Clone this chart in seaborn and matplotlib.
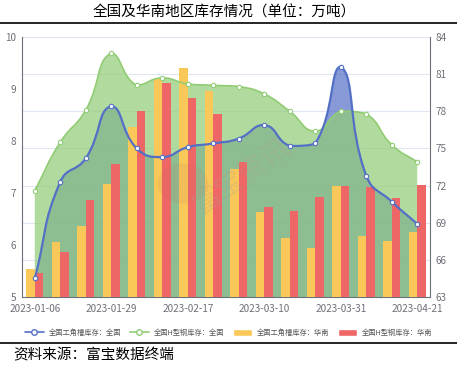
import numpy as np
import pandas as pd
import matplotlib
matplotlib.use("Agg")
import matplotlib.pyplot as plt
import seaborn as sns
from matplotlib.path import Path
from matplotlib.patches import PathPatch, Patch, Circle
from matplotlib.lines import Line2D

# data
dates = ['2023-01-06', '2023-01-13', '2023-01-20', '2023-01-29', '2023-02-03', '2023-02-10',
         '2023-02-17', '2023-02-24', '2023-03-03', '2023-03-10', '2023-03-17', '2023-03-24',
         '2023-03-31', '2023-04-07', '2023-04-14', '2023-04-21']
# national inventory, right axis
nat_angle = [64.5, 72.3, 74.2, 78.4, 75.0, 74.3, 75.1, 75.4,
             75.8, 76.9, 75.2, 75.4, 81.6, 72.8, 70.7, 68.9]
nat_hbeam = [71.6, 75.5, 78.1, 82.7, 80.1, 80.7, 80.2, 80.1,
             80.0, 79.4, 78.0, 76.4, 78.0, 77.8, 75.3, 73.9]
# south china inventory, left axis
south_angle = [5.53, 6.06, 6.37, 7.17, 8.26, 9.19, 9.40, 8.97,
               7.47, 6.64, 6.14, 5.94, 7.13, 6.17, 6.07, 6.25]
south_hbeam = [5.47, 5.86, 6.86, 7.55, 8.57, 9.11, 8.82, 8.52,
               7.60, 6.73, 6.65, 6.92, 7.13, 7.12, 6.90, 7.15]

names = ['全国工角槽库存：全国', '全国H型钢库存：全国', '全国工角槽库存：华南', '全国H型钢库存：华南']
BLUE, GREEN, YELLOW, RED = '#5470c6', '#91cc75', '#fac858', '#ee6666'
GREY = '#6e7079'

sns.set_style('white')
plt.rcParams['font.family'] = ['Noto Sans CJK SC', 'DejaVu Sans']


def smooth_path(ys, base=None, smooth=0.5, sx=25.5, sy=12.4):
    # echarts-like bezier smoothing, control points kept inside neighbours
    xs = np.arange(len(ys), dtype=float)
    ys = np.asarray(ys, dtype=float)
    n = len(ys)
    cin, cout = [], []
    for i in range(n):
        p = np.array([xs[i], ys[i]])
        pr = np.array([xs[max(i - 1, 0)], ys[max(i - 1, 0)]])
        nx = np.array([xs[min(i + 1, n - 1)], ys[min(i + 1, n - 1)]])
        v = nx - pr
        d0 = np.hypot((p - pr)[0] * sx, (p - pr)[1] * sy)
        d1 = np.hypot((nx - p)[0] * sx, (nx - p)[1] * sy)
        r = d0 / (d0 + d1) if d0 + d1 > 0 else 0.5
        c0 = p - v * smooth * r
        c1 = p + v * smooth * (1 - r)
        c0[1] = np.clip(c0[1], min(pr[1], p[1]), max(pr[1], p[1]))
        c1[1] = np.clip(c1[1], min(nx[1], p[1]), max(nx[1], p[1]))
        cin.append(c0)
        cout.append(c1)
    verts = [(xs[0], ys[0])]
    codes = [Path.MOVETO]
    for i in range(n - 1):
        verts += [tuple(cout[i]), tuple(cin[i + 1]), (xs[i + 1], ys[i + 1])]
        codes += [Path.CURVE4] * 3
    if base is not None:
        verts += [(xs[-1], base), (xs[0], base), (xs[0], ys[0])]
        codes += [Path.LINETO, Path.LINETO, Path.CLOSEPOLY]
    return Path(verts, codes)


fig = plt.figure(figsize=(4.57, 3.67), dpi=100)
L, R, T, B = 22 / 457, 430 / 457, 1 - 37 / 367, 1 - 297 / 367
ax_area = fig.add_axes([L, B, R - L, T - B])
ax_bar = ax_area.twinx()
ax_line = ax_area.twinx()

# areas (bottom layer)
ax_area.add_patch(PathPatch(smooth_path(nat_angle, base=63), facecolor=BLUE, alpha=0.7, lw=0))
ax_area.add_patch(PathPatch(smooth_path(nat_hbeam, base=63), facecolor=GREEN, alpha=0.7, lw=0))
ax_area.set_ylim(63, 84)
ax_area.set_yticks(range(63, 85, 3))
ax_area.yaxis.tick_right()
ax_area.grid(axis='y', color='#e0e6f1', lw=0.8)
ax_area.set_axisbelow(True)

# bars
df = pd.DataFrame({'date': dates * 2,
                   'value': south_angle + south_hbeam,
                   'series': [names[2]] * len(dates) + [names[3]] * len(dates)})
sns.barplot(data=df, x='date', y='value', hue='series', order=dates,
            palette=[YELLOW, RED], width=0.67, saturation=1, legend=False,
            linewidth=0, edgecolor='none', ax=ax_bar)
ax_bar.set_ylim(5, 10)
ax_bar.set_yticks(range(5, 11))
ax_bar.yaxis.tick_left()
ax_bar.set_xlabel('')
ax_bar.set_ylabel('')

# lines (top layer)
ax_line.add_patch(PathPatch(smooth_path(nat_hbeam), fill=False, edgecolor=GREEN, lw=1.2))
ax_line.add_patch(PathPatch(smooth_path(nat_angle), fill=False, edgecolor=BLUE, lw=1.6))
xs = np.arange(len(dates))
sns.scatterplot(x=xs, y=nat_hbeam, marker='o', s=10, color='white', edgecolor=GREEN,
                linewidth=0.8, ax=ax_line, zorder=5)
sns.scatterplot(x=xs, y=nat_angle, marker='o', s=10, color='white', edgecolor=BLUE,
                linewidth=0.8, ax=ax_line, zorder=5)
ax_line.set_ylim(63, 84)
ax_line.set_yticks([])

ax_area.set_xlim(-0.5, len(dates) - 0.5)
ax_area.set_xticks(range(0, len(dates), 3))
ax_area.set_xticklabels(dates[::3])
ax_area.set_xticks(np.arange(-0.5, len(dates), 3), minor=True)
ax_area.tick_params(axis='x', which='major', length=0, labelsize=7.2, colors=GREY, pad=5)
ax_area.tick_params(axis='x', which='minor', length=4, color=GREY, width=0.8)
ax_area.tick_params(axis='y', length=0, labelsize=7.2, colors=GREY, pad=4)
ax_bar.tick_params(axis='y', length=0, labelsize=7.2, colors=GREY, pad=4)

for a in (ax_area, ax_bar, ax_line):
    for s in a.spines.values():
        s.set_visible(False)
for s in ('left', 'right', 'bottom'):
    ax_area.spines[s].set_visible(True)
    ax_area.spines[s].set_color(GREY)
    ax_area.spines[s].set_linewidth(0.8)

# watermark
fig.text(0.53, 0.52, '富宝资讯', fontsize=20, color='#b0a090', alpha=0.25,
         rotation=35, ha='center', va='center')
fig.patches.append(Circle((0.40, 0.50), 0.055, transform=fig.transFigure,
                          facecolor='#c07060', alpha=0.13, lw=0))

# title, separators, source
fig.text(0.49, 1 - 13 / 367, '全国及华南地区库存情况（单位：万吨）', fontsize=10.5,
         ha='center', va='center', color='black')
fig.add_artist(Line2D([0, 1], [1 - 23 / 367] * 2, color='black', lw=1.2, transform=fig.transFigure))
fig.add_artist(Line2D([0, 1], [1 - 343 / 367] * 2, color='black', lw=1.2, transform=fig.transFigure))
fig.text(13 / 457, 1 - 355 / 367, '资料来源：富宝数据终端', fontsize=10.5,
         ha='left', va='center', color='black')

handles = [Line2D([], [], color=BLUE, lw=1.2, marker='o', ms=4, mfc='white', mec=BLUE),
           Line2D([], [], color=GREEN, lw=1.2, marker='o', ms=4, mfc='white', mec=GREEN),
           Patch(facecolor=YELLOW), Patch(facecolor=RED)]
leg = fig.legend(handles, names, loc='center', bbox_to_anchor=(0.5, 1 - 333 / 367), ncol=4,
                 frameon=False, fontsize=5.2, handlelength=2.6, handleheight=1.2,
                 handletextpad=0.7, columnspacing=1.2)
for t in leg.get_texts():
    t.set_color('#555555')

fig.savefig('out.png', dpi=100)
